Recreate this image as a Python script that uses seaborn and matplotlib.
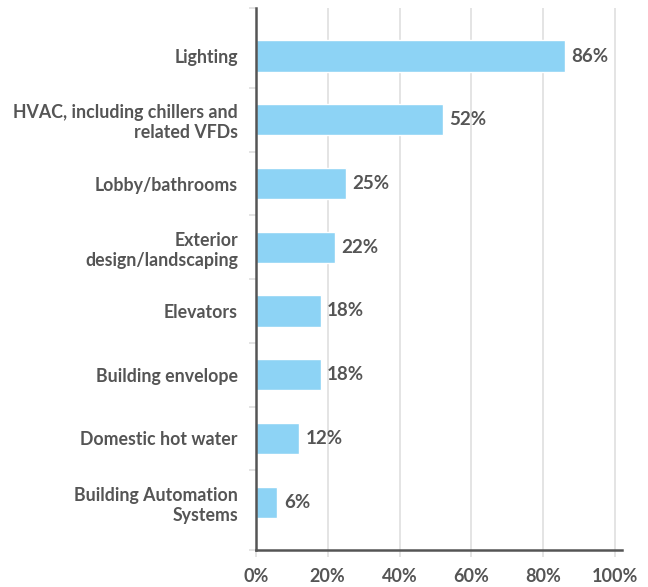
import matplotlib
matplotlib.use("Agg")
import matplotlib.pyplot as plt
import seaborn as sns
import pandas as pd

categories = [
    "Lighting",
    "HVAC, including chillers and\nrelated VFDs",
    "Lobby/bathrooms",
    "Exterior\ndesign/landscaping",
    "Elevators",
    "Building envelope",
    "Domestic hot water",
    "Building Automation\nSystems",
]
values = [86, 52, 25, 22, 18, 18, 12, 6]
x_ticks = [0, 20, 40, 60, 80, 100]
x_tick_labels = ["0%", "20%", "40%", "60%", "80%", "100%"]

df = pd.DataFrame({"category": categories, "value": values})

sns.set_theme(style="white")
plt.rcParams["font.family"] = ["Lato", "DejaVu Sans"]

text_color = "#555555"
bar_color = "#8DD3F5"
grid_color = "#DDDDDD"

fig = plt.figure(figsize=(6.48, 5.87), dpi=100)
ax = fig.add_axes([0.395, 0.063, 0.565, 0.923])

sns.barplot(data=df, x="value", y="category", color=bar_color, width=0.49,
            saturation=1, ax=ax, zorder=3)

ax.set_xlim(0, 102)
ax.set_ylim(7.75, -0.75)
ax.set_xticks(x_ticks)
ax.set_xticklabels(x_tick_labels)
ax.set_xlabel("")
ax.set_ylabel("")

ax.xaxis.grid(True, color=grid_color, linewidth=1.1, zorder=0)
ax.yaxis.grid(False)

for side in ["top", "right"]:
    ax.spines[side].set_visible(False)
for side in ["left", "bottom"]:
    ax.spines[side].set_visible(True)
    ax.spines[side].set_color(text_color)
    ax.spines[side].set_linewidth(1.8)
    ax.spines[side].set_zorder(4)

ax.tick_params(axis="x", which="major", length=5, width=1.1, color=grid_color,
               labelsize=13, labelcolor=text_color, pad=8, bottom=True)
ax.tick_params(axis="y", which="major", length=0, labelsize=12.8,
               labelcolor=text_color, pad=13)
for lbl in ax.get_xticklabels():
    lbl.set_fontweight("bold")
for lbl in ax.get_yticklabels():
    lbl.set_fontweight("bold")
    lbl.set_linespacing(1.22)

# separator ticks between categories on the left spine
ax.set_yticks([-0.75] + [i + 0.5 for i in range(7)] + [7.75], minor=True)
ax.tick_params(axis="y", which="minor", length=5, width=1.1, color=grid_color,
               left=True)

for i, v in enumerate(values):
    ax.text(v + 1.8, i, f"{v}%", va="center", ha="left", fontsize=13.5,
            fontweight="bold", color=text_color)

fig.savefig("out.png", dpi=100)
